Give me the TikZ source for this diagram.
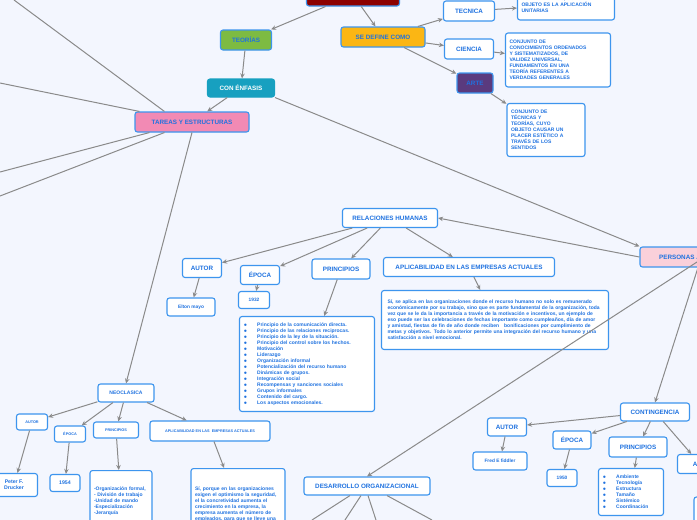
\documentclass[tikz,border=0pt]{standalone}
\usepackage{fontspec}
\setmainfont{Liberation Sans}
\usetikzlibrary{arrows.meta}
\hyphenpenalty=10000
\definecolor{txtblue}{HTML}{1F72E0}
\definecolor{edgeblue}{HTML}{3D95EE}
\definecolor{linegray}{HTML}{8A8A8A}
\definecolor{bgblue}{HTML}{F3F6FE}
\definecolor{teogreen}{HTML}{7DBB42}
\definecolor{enfteal}{HTML}{17A0C0}
\definecolor{defyellow}{HTML}{FBB614}
\definecolor{artepurple}{HTML}{5A3A7E}
\definecolor{tarpink}{HTML}{F28AB4}
\definecolor{perpink}{HTML}{FAD0DA}
\tikzset{
  box/.style={draw=edgeblue, line width=1.1pt, rounded corners=2.5pt, fill=white,
    text=txtblue, font=\bfseries\fontsize{6.3}{7.5}\selectfont, inner sep=1pt, align=center},
  smallbox/.style={box, font=\bfseries\fontsize{3.8}{4.6}\selectfont},
  textbox/.style={box, font=\bfseries\fontsize{5}{6}\selectfont, align=left, inner sep=4pt},
  arr/.style={draw=linegray, line width=1pt, -{Stealth[length=5pt,width=4.5pt]}},
  ln/.style={draw=linegray, line width=1pt}
}
\begin{document}
\begin{tikzpicture}[x=1pt,y=-1pt]
\fill[bgblue] (0,0) rectangle (697,520);
\useasboundingbox (0,0) rectangle (697,520);

% lines to nodes outside the picture
\coordinate (o1) at (14,0);
\coordinate (o2) at (0,83);
\coordinate (o3) at (0,172);
\coordinate (o4) at (0,196);
\coordinate (pr) at (697,262);

% upper part
\node[box, fill=red!55!black, minimum width=93, minimum height=22] (titulo) at (353,-5) {};
\node[box, fill=teogreen, minimum width=51, minimum height=20] (teorias) at (246,40) {TEORÍAS};
\node[box, fill=defyellow, minimum width=84, minimum height=20] (define) at (383,37) {SE DEFINE COMO};
\node[box, minimum width=51, minimum height=20] (tecnica) at (469,11) {TECNICA};
\node[textbox, text width=89, minimum height=30] (tectxt) at (566,5) {CONOCIMIENTOS, CUYO\\OBJETO ES LA APLICACIÓN\\UNITARIAS};
\node[box, minimum width=49, minimum height=20] (ciencia) at (469,49) {CIENCIA};
\node[textbox, text width=97, minimum height=54] (cientxt) at (558,60) {CONJUNTO DE\\CONOCIMIENTOS ORDENADOS\\Y SISTEMATIZADOS, DE\\VALIDEZ UNIVERSAL,\\FUNDAMENTOS EN UNA\\TEORÍA REFERENTES A\\VERDADES GENERALES};
\node[box, fill=artepurple, minimum width=36, minimum height=20] (arte) at (475,83) {ARTE};
\node[textbox, text width=70, minimum height=53] (artetxt) at (546,130) {CONJUNTO DE\\TÉCNICAS Y\\TEORÍAS, CUYO\\OBJETO CAUSAR UN\\PLACER ESTÉTICO A\\TRAVÉS DE LOS\\SENTIDOS};
\node[box, fill=enfteal, draw=enfteal, text=white, minimum width=67, minimum height=18] (enfasis) at (241,88) {CON ÉNFASIS};
\node[box, fill=tarpink, minimum width=114, minimum height=20] (tareas) at (192,122) {TAREAS Y ESTRUCTURAS};
\node[box, fill=perpink, minimum width=80, minimum height=20] (personas) at (680,257) {PERSONAS A};

% relaciones humanas
\node[box, minimum width=95, minimum height=19] (relhum) at (390,218) {RELACIONES HUMANAS};
\node[box, minimum width=39, minimum height=19] (rhautor) at (202,268) {AUTOR};
\node[box, minimum width=39, minimum height=19] (rhepoca) at (260,275) {ÉPOCA};
\node[box, minimum width=58, minimum height=20] (rhprin) at (341,269) {PRINCIPIOS};
\node[box, minimum width=171, minimum height=19] (rhapl) at (469,267) {APLICABILIDAD EN LAS EMPRESAS ACTUALES};
\node[smallbox, font=\bfseries\fontsize{4.8}{5.5}\selectfont, minimum width=48, minimum height=18] (rhnom) at (191,307) {Elton mayo};
\node[smallbox, font=\bfseries\fontsize{4.8}{5.5}\selectfont, minimum width=31, minimum height=17] (rhano) at (254,300) {1932};
\node[textbox, text width=127, minimum height=95] (rhlist) at (307,364) {%
$\bullet$\hspace{10pt}Principio de la comunicación directa.\\
$\bullet$\hspace{10pt}Principio de las relaciones reciprocas.\\
$\bullet$\hspace{10pt}Principio de la ley de la situación.\\
$\bullet$\hspace{10pt}Principio del control sobre los hechos.\\
$\bullet$\hspace{10pt}Motivación\\
$\bullet$\hspace{10pt}Liderazgo\\
$\bullet$\hspace{10pt}Organización informal\\
$\bullet$\hspace{10pt}Potencialización del recurso humano\\
$\bullet$\hspace{10pt}Dinámicas de grupos.\\
$\bullet$\hspace{10pt}Integración social\\
$\bullet$\hspace{10pt}Recompensas y sanciones sociales\\
$\bullet$\hspace{10pt}Grupos informales\\
$\bullet$\hspace{10pt}Contenido del cargo.\\
$\bullet$\hspace{10pt}Los aspectos emocionales.};
\node[textbox, text width=215, minimum height=59, inner xsep=6pt] (rhsi) at (495,320) {Sí, se aplica en las organizaciones donde el recurso humano no solo es remunerado económicamente por su trabajo, sino que es parte fundamental de la organización, toda vez que se le da la importancia a través de la motivación e incentivos, un ejemplo de eso puede ser las celebraciones de fechas importante como cumpleaños, día de amor y amistad, fiestas de fin de año donde reciben\ \ \ bonificaciones por cumplimiento de metas y objetivos. Todo lo anterior permite una integración del recurso humano y una satisfacción a nivel emocional.};

% neoclasica
\node[box, font=\bfseries\fontsize{5}{6}\selectfont, minimum width=56, minimum height=18] (neo) at (126,393) {NEOCLASICA};
\node[smallbox, minimum width=31, minimum height=16] (neoautor) at (32,422) {AUTOR};
\node[smallbox, minimum width=31, minimum height=16] (neoepoca) at (70,434) {ÉPOCA};
\node[smallbox, minimum width=45, minimum height=16] (neoprin) at (116,430) {PRINCIPIOS};
\node[smallbox, minimum width=120, minimum height=20] (neoapl) at (210,431) {APLICABILIDAD EN LAS\ \ EMPRESAS ACTUALES};
\node[box, font=\bfseries\fontsize{5.2}{6.2}\selectfont, minimum width=47, minimum height=23] (neonom) at (14,485) {Peter F.\\Drucker};
\node[box, font=\bfseries\fontsize{5.2}{6}\selectfont, minimum width=30, minimum height=17] (neoano) at (65,483) {1954};
\node[textbox, anchor=north, text width=54, minimum height=62] (neolist) at (121,470) {-Organización formal,\\- División de trabajo\\-Unidad de mando\\-Especialización\\-Jerarquía};
\node[textbox, anchor=north, text width=86, minimum height=72] (neosi) at (238,468) {Sí, porque en las organizaciones exigen el optimismo la seguridad, el la concretividad aumenta el crecimiento en la empresa, la empresa aumenta el número de empleados, para que se lleve una};

% desarrollo organizacional
\node[box, minimum width=126, minimum height=18] (desorg) at (367,486) {DESARROLLO ORGANIZACIONAL};
\coordinate (d1) at (312,520);
\coordinate (d2) at (345,520);
\coordinate (d3) at (376,520);
\coordinate (d4) at (432,520);

% contingencia
\node[box, minimum width=69, minimum height=18] (cont) at (655,412) {CONTINGENCIA};
\node[box, minimum width=39, minimum height=18] (coautor) at (507,427) {AUTOR};
\node[box, minimum width=38, minimum height=18] (coepoca) at (572,440) {ÉPOCA};
\node[box, minimum width=58, minimum height=20] (coprin) at (638,447) {PRINCIPIOS};
\node[box, minimum width=45, minimum height=19] (coapl) at (700,464) {APLI};
\node[box, minimum width=20, minimum height=30] (coapltxt) at (704,512) {};
\node[smallbox, font=\bfseries\fontsize{4.8}{5.5}\selectfont, minimum width=54, minimum height=18] (conom) at (500,461) {Fred E fiddler};
\node[smallbox, font=\bfseries\fontsize{4.8}{5.5}\selectfont, minimum width=30, minimum height=17] (coano) at (562,478) {1950};
\node[textbox, text width=57, minimum height=47] (colist) at (631,492) {%
$\bullet$\hspace{10pt}Ambiente\\
$\bullet$\hspace{10pt}Tecnología\\
$\bullet$\hspace{10pt}Estructura\\
$\bullet$\hspace{10pt}Tamaño\\
$\bullet$\hspace{10pt}Sistémico\\
$\bullet$\hspace{10pt}Coordinación};

% connectors
\draw[arr] (titulo) -- (teorias);
\draw[arr] (titulo) -- (define);
\draw[arr] (define) -- (tecnica);
\draw[arr] (define) -- (ciencia);
\draw[arr] (define) -- (arte);
\draw[arr] (tecnica) -- (tectxt);
\draw[arr] (ciencia) -- (cientxt);
\draw[arr] (arte) -- (artetxt);
\draw[arr] (teorias) -- (enfasis);
\draw[arr] (enfasis) -- (tareas);
\draw[arr] (enfasis.south east) -- (personas.north west);
\draw[ln] (tareas.north west) ++(30,0) -- (o1);
\draw[ln] (tareas.north west) ++(5,0) -- (o2);
\draw[ln] (tareas.south west) ++(15,0) -- (o3);
\draw[ln] (tareas.south west) ++(30,0) -- (o4);
\draw[arr] (tareas.south) -- (neo.north);
\draw[arr] (personas.west) -- (relhum.east);
\draw[arr] (pr) -- (desorg.north);
\draw[arr] (personas.south) ++(18,0) -- (cont.north);

\draw[arr] (relhum) -- (rhautor);
\draw[arr] (relhum) -- (rhepoca);
\draw[arr] (relhum) -- (rhprin);
\draw[arr] (relhum) -- (rhapl);
\draw[arr] (rhautor) -- (rhnom);
\draw[arr] (rhepoca) -- (rhano);
\draw[arr] (rhprin) -- (rhlist);
\draw[arr] (rhapl) -- (rhsi);

\draw[arr] (neo) -- (neoautor);
\draw[arr] (neo) -- (neoepoca);
\draw[arr] (neo) -- (neoprin);
\draw[arr] (neo) -- (neoapl);
\draw[arr] (neoautor) -- (neonom);
\draw[arr] (neoepoca) -- (neoano);
\draw[arr] (neoprin) -- (neolist);
\draw[arr] (neoapl) -- (neosi);

\draw[ln] (desorg.south) ++(-17,0) -- (d1);
\draw[ln] (desorg.south) ++(-6,0) -- (d2);
\draw[ln] (desorg.south) ++(1,0) -- (d3);
\draw[ln] (desorg.south) ++(20,0) -- (d4);

\draw[arr] (cont) -- (coautor);
\draw[arr] (cont) -- (coepoca);
\draw[arr] (cont) -- (coprin);
\draw[arr] (cont) -- (coapl);
\draw[arr] (coautor) -- (conom);
\draw[arr] (coepoca) -- (coano);
\draw[arr] (coprin) -- (colist);
\end{tikzpicture}
\end{document}
